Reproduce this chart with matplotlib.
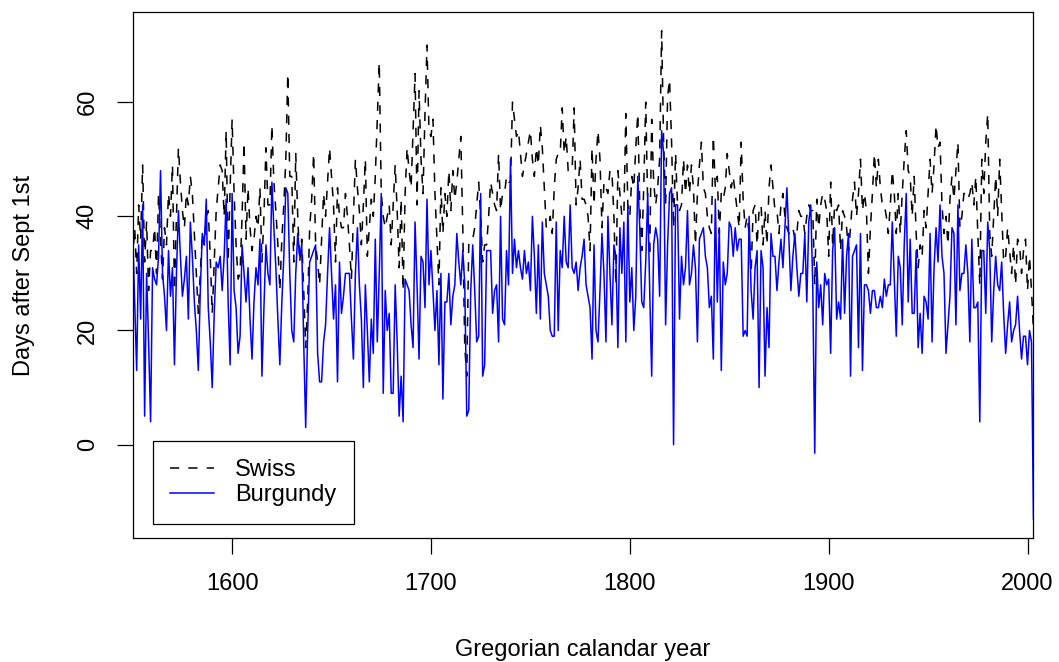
import numpy as np
import matplotlib
matplotlib.use('Agg')
import matplotlib.pyplot as plt

plt.rcParams['font.family'] = ['Liberation Sans', 'DejaVu Sans']

# harvest dates, days after Sept 1st, one value per year 1550..2003
years = np.arange(1550, 2004)

burgundy = [
	37, 25, 13, 35, 22, 42, 5, 30, 18, 4,      # 1550
	31, 29, 28, 33, 48, 30, 26, 20, 34, 26,
	31, 14, 30, 41, 33, 26, 29, 33, 22, 39,
	33, 25, 20, 13, 27, 37, 35, 43, 24, 18,
	10, 23, 32, 31, 33, 27, 33, 43, 25, 14,
	44, 27, 24, 16, 19, 35, 30, 25, 31, 22,    # 1600
	15, 25, 31, 28, 36, 12, 24, 35, 30, 28,
	46, 38, 31, 22, 14, 25, 33, 45, 44, 30,
	20, 18, 30, 37, 33, 35, 18, 3, 20, 32,
	33, 34, 35, 16, 11, 11, 18, 21, 30, 38,
	30, 22, 28, 11, 32, 23, 26, 30, 30, 30,    # 1650
	22, 15, 30, 38, 28, 22, 10, 28, 20, 11,
	22, 16, 36, 18, 30, 44, 9, 27, 20, 23,
	9, 9, 28, 18, 5, 12, 4, 29, 28, 27,
	21, 17, 39, 28, 15, 33, 32, 24, 43, 28,
	34, 27, 20, 27, 14, 30, 8, 25, 25, 30,     # 1700
	21, 26, 28, 37, 32, 28, 34, 28, 5, 6,
	27, 35, 27, 18, 19, 44, 12, 14, 34, 34,
	34, 23, 27, 28, 18, 40, 22, 21, 34, 28,
	50, 30, 36, 31, 34, 31, 29, 34, 30, 32,
	27, 40, 33, 23, 35, 22, 39, 30, 28, 26,    # 1750
	20, 19, 19, 39, 20, 34, 31, 40, 32, 31,
	42, 31, 30, 32, 27, 31, 33, 36, 28, 26,
	24, 15, 35, 20, 18, 27, 37, 30, 18, 40,
	30, 21, 35, 33, 17, 38, 30, 39, 18, 42,
	25, 31, 20, 26, 47, 38, 25, 24, 32, 44,    # 1800
	27, 12, 35, 38, 36, 26, 55, 51, 21, 35,
	44, 45, 0, 42, 42, 22, 33, 28, 31, 41,
	28, 30, 35, 31, 18, 36, 37, 38, 33, 31,
	24, 26, 15, 43, 25, 38, 13, 32, 28, 30,
	39, 38, 33, 38, 34, 36, 36, 19, 20, 19,    # 1850
	40, 27, 22, 31, 34, 10, 34, 31, 12, 24,
	17, 37, 33, 33, 27, 32, 36, 31, 38, 45,
	36, 27, 33, 37, 31, 26, 30, 30, 37, 25,
	39, 42, 28, -1.5, 32, 24, 28, 21, 30, 28,
	29, 16, 34, 38, 22, 25, 22, 36, 23, 33,    # 1900
	37, 12, 33, 34, 35, 17, 37, 13, 28, 28,
	27, 23, 27, 27, 24, 24, 26, 24, 29, 26,
	28, 28, 39, 29, 19, 33, 31, 21, 35, 44,
	25, 36, 23, 23, 34, 17, 23, 16, 26, 25,
	22, 37, 18, 31, 38, 32, 42, 33, 30, 16,    # 1950
	21, 26, 38, 37, 21, 42, 27, 30, 30, 35,
	30, 18, 36, 24, 24, 25, 4, 34, 34, 23,
	39, 34, 18, 27, 33, 28, 27, 32, 23, 16,
	21, 25, 18, 20, 21, 26, 20, 15, 19, 19,
	14, 20, 18, -13,                           # 2000
]

swiss = [
	32, 38, 30, 42, 36, 49, 32, 39, 27, 34,    # 1550
	34, 38, 30, 44, 36, 29, 38, 35, 44, 40,
	49, 27, 40, 52, 46, 41, 38, 44, 42, 47,
	44, 37, 30, 23, 30, 37, 35, 40, 41, 33,
	23, 32, 41, 45, 49, 48, 40, 55, 32, 45,
	57, 44, 35, 29, 30, 40, 53, 36, 45, 38,    # 1600
	34, 36, 40, 38, 45, 32, 40, 52, 42, 42,
	56, 46, 41, 35, 27, 36, 42, 50, 65, 47,
	47, 32, 51, 40, 32, 36, 27, 17, 25, 38,
	43, 51, 35, 32, 28, 36, 44, 40, 46, 52,
	47, 42, 32, 45, 40, 38, 38, 44, 40, 35,    # 1650
	29, 40, 50, 45, 41, 35, 42, 50, 33, 38,
	43, 40, 47, 57, 67, 44, 40, 38, 40, 42,
	35, 42, 49, 41, 31, 43, 27, 44, 52, 48,
	45, 55, 65, 42, 62, 50, 44, 58, 70, 55,
	54, 57, 44, 36, 28, 45, 37, 44, 40, 48,    # 1700
	41, 48, 43, 46, 50, 54, 38, 17, 12, 35,
	36, 36, 38, 42, 46, 40, 32, 35, 35, 40,
	46, 44, 42, 41, 51, 41, 44, 44, 47, 46,
	46, 60, 57, 54, 55, 51, 47, 49, 51, 53,
	55, 50, 47, 52, 49, 56, 52, 45, 38, 38,    # 1750
	40, 37, 45, 50, 51, 51, 59, 51, 54, 48,
	48, 48, 59, 42, 45, 50, 43, 43, 42, 40,
	34, 52, 42, 50, 55, 50, 38, 46, 45, 44,
	48, 48, 40, 28, 48, 44, 40, 40, 58, 42,
	40, 47, 45, 52, 58, 42, 34, 45, 60, 42,    # 1800
	33, 57, 46, 42, 45, 50, 72.5, 53, 42, 61,
	64, 53, 38, 51, 42, 41, 42, 50, 44, 49,
	44, 49, 45, 35, 44, 49, 53, 45, 44, 40,
	38, 37, 54, 45, 47, 37, 44, 43, 45, 51,
	48, 45, 47, 44, 41, 38, 53, 43, 38, 40,    # 1850
	37, 30, 41, 42, 35, 41, 42, 35, 41, 35,
	45, 49, 45, 41, 41, 37, 42, 44, 40, 38,
	37, 37, 38, 36, 37, 41, 40, 40, 37, 40,
	42, 41, 41, 28, 43, 38, 42, 44, 43, 41,
	33, 46, 35, 42, 41, 42, 34, 41, 40, 38,    # 1900
	34, 38, 43, 46, 40, 44, 50, 41, 44, 41,
	30, 38, 44, 51, 45, 50, 45, 42, 42, 40,
	37, 42, 48, 44, 37, 44, 37, 44, 50, 55,
	48, 47, 40, 47, 37, 31, 35, 33, 41, 38,
	44, 50, 44, 49, 56, 52, 53, 42, 37, 40,    # 1950
	35, 43, 47, 43, 48, 53, 38, 40, 44, 44,
	43, 44, 46, 42, 47, 37, 28, 50, 44, 53,
	58, 37, 33, 40, 47, 40, 50, 41, 32, 33,
	38, 34, 30, 35, 28, 36, 35, 30, 34, 36,
	27, 33, 27, 20,                            # 2000
]

assert len(burgundy) == len(years) and len(swiss) == len(years)

fs = 17

fig = plt.figure(figsize=(10.59, 6.62), dpi=100)
ax = fig.add_axes([0.1253, 0.1869, 0.8506, 0.7950])

ax.plot(years, swiss, color='black', lw=1.1, linestyle=(0, (6, 6)), label='Swiss')
ax.plot(years, burgundy, color='blue', lw=1.1, label='Burgundy')

ax.set_xlim(1550, 2003)
ax.set_ylim(-16.4, 75.8)
ax.set_xticks([1600, 1700, 1800, 1900, 2000])
ax.set_yticks([0, 20, 40, 60])
ax.tick_params(direction='out', length=11.5, width=0.9, labelsize=fs, colors='black')
ax.tick_params(axis='x', pad=13.5)
ax.tick_params(axis='y', pad=13)
for lab in ax.get_yticklabels():
	lab.set_rotation(90)
	lab.set_va('center')
for sp in ax.spines.values():
	sp.set_linewidth(0.9)

ax.set_xlabel('Gregorian calandar year', fontsize=fs, labelpad=32)
ax.set_ylabel('Days after Sept 1st', fontsize=fs, labelpad=30)

leg = ax.legend(loc='lower left', bbox_to_anchor=(0.0222, 0.0277), borderaxespad=0,
	fontsize=fs, fancybox=False, edgecolor='black', framealpha=1,
	handlelength=1.85, handletextpad=0.9, borderpad=0.75, labelspacing=0.12)
leg.get_frame().set_linewidth(0.9)

plt.savefig('out.png', dpi=100)
